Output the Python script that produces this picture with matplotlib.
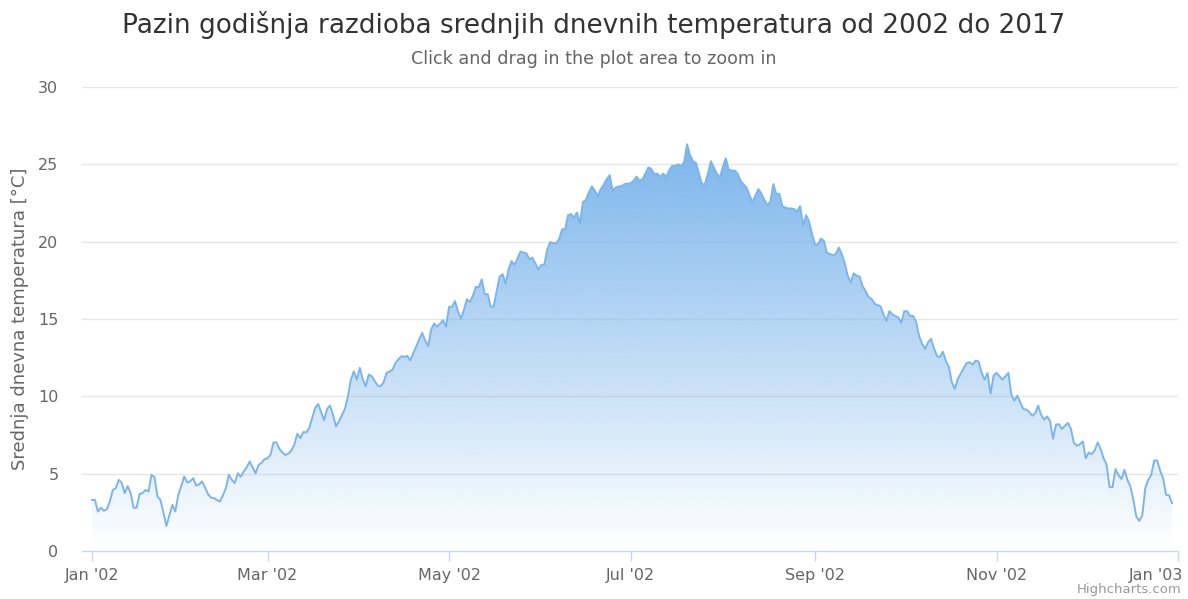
import matplotlib
matplotlib.use("Agg")
import matplotlib.pyplot as plt
import matplotlib.dates as mdates
import matplotlib.transforms as mtrans
import numpy as np
import pandas as pd

# ---- data ----
title = "Pazin godišnja razdioba srednjih dnevnih temperatura od 2002 do 2017"
subtitle = "Click and drag in the plot area to zoom in"
y_label = "Srednja dnevna temperatura [°C]"
start_date = "2002-01-01"
temps = [
    3.3, 3.3, 2.55, 2.8, 2.6, 2.7, 3.2, 3.95, 4.06, 4.6,
    4.4, 3.74, 4.2, 3.74, 2.8, 2.8, 3.7, 3.74, 3.95, 3.84,
    4.93, 4.78, 3.52, 3.3, 2.5, 1.62, 2.3, 2.98, 2.55, 3.63,
    4.2, 4.82, 4.43, 4.5, 4.71, 4.23, 4.3, 4.5, 4.1, 3.67,
    3.45, 3.41, 3.3, 3.2, 3.6, 4.06, 4.93, 4.6, 4.39, 5.03,
    4.8, 5.14, 5.4, 5.79, 5.4, 5.03, 5.57, 5.7, 5.94, 6.0,
    6.22, 7.02, 7.02, 6.6, 6.37, 6.2, 6.3, 6.5, 6.87, 7.58,
    7.3, 7.69, 7.67, 7.95, 8.6, 9.25, 9.5, 9.0, 8.45, 9.18,
    9.4, 8.8, 8.06, 8.38, 8.8, 9.18, 10.0, 11.08, 11.62, 11.08,
    11.84, 11.1, 10.65, 11.4, 11.3, 11.0, 10.7, 10.65, 10.9, 11.52,
    11.6, 11.73, 12.16, 12.4, 12.59, 12.55, 12.62, 12.33, 12.8, 13.24,
    13.7, 14.1, 13.6, 13.24, 14.32, 14.71, 14.5, 14.7, 14.92, 14.5,
    15.79, 15.79, 16.16, 15.5, 15.0, 15.6, 16.27, 16.1, 16.5, 17.07,
    17.07, 17.56, 16.6, 16.6, 15.79, 15.8, 16.8, 17.74, 17.9, 17.3,
    18.2, 18.75, 18.5, 18.9, 19.36, 19.3, 19.25, 18.86, 18.97, 18.6,
    18.2, 18.5, 18.5, 19.5, 19.98, 19.9, 19.9, 20.16, 20.8, 20.8,
    21.71, 21.78, 21.56, 21.88, 21.19, 22.57, 22.7, 23.2, 23.57, 23.29,
    22.96, 23.4, 23.7, 24.04, 24.3, 23.29, 23.5, 23.57, 23.6, 23.72,
    23.75, 23.78, 23.93, 24.21, 23.95, 24.04, 24.4, 24.8, 24.7, 24.37,
    24.4, 24.2, 24.4, 24.2, 24.6, 24.91, 24.9, 25.0, 24.9, 25.13,
    26.3, 25.6, 25.2, 25.1, 24.4, 23.72, 23.72, 24.4, 25.2, 24.8,
    24.4, 24.15, 24.8, 25.39, 24.65, 24.6, 24.6, 24.4, 23.93, 23.7,
    23.5, 23.0, 22.55, 23.0, 23.4, 23.1, 22.7, 22.36, 22.6, 23.72,
    23.07, 23.1, 22.3, 22.2, 22.15, 22.15, 22.1, 21.93, 22.3, 21.06,
    21.71, 21.3, 20.5, 19.83, 19.83, 20.2, 20.05, 19.29, 19.2, 19.12,
    19.2, 19.62, 19.2, 18.6, 17.8, 17.35, 17.95, 17.8, 17.74, 17.13,
    16.8, 16.42, 16.3, 16.0, 15.9, 15.83, 15.3, 14.86, 15.51, 15.3,
    15.2, 15.1, 14.76, 15.51, 15.5, 15.2, 15.2, 14.8, 13.89, 13.4,
    13.07, 13.5, 13.72, 13.1, 12.59, 12.55, 12.88, 12.27, 11.9, 10.91,
    10.48, 11.13, 11.47, 11.8, 12.16, 12.2, 12.05, 12.31, 12.25, 11.52,
    11.08, 11.5, 10.17, 11.34, 11.52, 11.3, 11.08, 11.3, 11.52, 10.11,
    9.72, 10.05, 9.6, 9.18, 9.15, 9.0, 8.75, 8.9, 9.4, 8.8,
    8.49, 8.7, 8.4, 7.26, 8.17, 8.2, 7.89, 8.1, 8.28, 7.9,
    7.0, 6.8, 6.9, 7.08, 6.0, 6.37, 6.26, 6.5, 7.02, 6.6,
    6.0, 5.57, 4.13, 4.13, 5.3, 4.9, 4.65, 5.25, 4.6, 4.17,
    3.3, 2.22, 1.94, 2.3, 4.06, 4.6, 4.93, 5.85, 5.85, 5.2,
    4.71, 3.63, 3.6, 3.09,
]
y_ticks = [0, 5, 10, 15, 20, 25, 30]
x_tick_dates = ["2002-01-01", "2002-03-01", "2002-05-01", "2002-07-01",
                "2002-09-01", "2002-11-01", "2003-01-01"]

# ---- styling ----
plt.rcParams["font.family"] = ["DejaVu Sans"]
LINE = "#7cb5ec"
TXT = "#666666"

dates = pd.date_range(start_date, periods=len(temps), freq="D")
xnum = mdates.date2num(dates)
y = np.array(temps)

fig = plt.figure(figsize=(11.88, 5.99), dpi=100)
W, H = 1188, 599
left_px, right_px, top_px, bot_px = 82, 1178, 87, 551
ax = fig.add_axes([left_px / W, 1 - bot_px / H,
                   (right_px - left_px) / W, (bot_px - top_px) / H])

x_end = mdates.date2num(pd.Timestamp("2003-01-01"))
x_start = xnum[0] - 3.36

# gradient fill clipped to the area under the line
poly = ax.fill_between(xnum, y, 0, color="none", lw=0)
ymax = y.max()
grad = np.linspace(1, 0, 256).reshape(-1, 1)
rgb = np.array([124, 181, 236]) / 255.0
img = np.ones((256, 1, 4))
img[..., :3] = rgb
img[..., 3] = grad
im = ax.imshow(img, aspect="auto", extent=[xnum[0], xnum[-1], 0, ymax],
               origin="upper", zorder=1, interpolation="bilinear")
im.set_clip_path(poly.get_paths()[0], transform=ax.transData)
ax.set_xlim(x_start, x_end)
ax.set_ylim(0, 30)

ax.plot(xnum, y, color=LINE, lw=1.4, zorder=3, solid_joinstyle="round")

# grid and axes
for t in y_ticks[1:]:
    ax.axhline(t, color="#e6e6e6", lw=1.0, zorder=0)
for s in ["top", "right", "left"]:
    ax.spines[s].set_visible(False)
ax.spines["bottom"].set_color("#ccd6eb")
ax.spines["bottom"].set_linewidth(1.0)
ax.spines["bottom"].set_zorder(4)

ax.set_yticks(y_ticks)
ax.set_yticklabels([str(t) for t in y_ticks])
ax.tick_params(axis="y", length=0, pad=17, labelsize=11.5, labelcolor=TXT)
xt = mdates.date2num(pd.to_datetime(x_tick_dates))
ax.set_xticks(xt)
labels = ax.set_xticklabels([pd.Timestamp(d).strftime("%b '%y") for d in x_tick_dates])
ax.tick_params(axis="x", length=7, width=1, color="#ccd6eb", pad=5,
               labelsize=11.5, labelcolor=TXT)
labels[-1].set_horizontalalignment("right")
labels[-1].set_transform(labels[-1].get_transform() +
                         mtrans.ScaledTranslation(5 / 100, 0, fig.dpi_scale_trans))

fig.text(0.5, 1 - 25 / H, title, ha="center", va="center",
         fontsize=18.9, color="#333333")
fig.text(0.5, 1 - 59 / H, subtitle, ha="center", va="center",
         fontsize=12.6, color=TXT)
fig.text(20 / W, 1 - 319 / H, y_label, rotation=90, ha="center",
         va="center", fontsize=13, color=TXT)
fig.text(1182 / W, 1 - 590 / H, "Highcharts.com", ha="right", va="center",
         fontsize=9.5, color="#999999")

fig.savefig("out.png", dpi=100, facecolor="white")
